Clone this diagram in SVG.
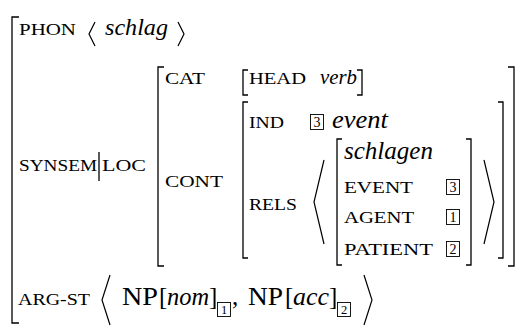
<svg xmlns="http://www.w3.org/2000/svg" width="521" height="328" viewBox="0 0 521 328">
<style>
text{font-family:"Liberation Serif","Times New Roman",serif;fill:#000}
.sc{font-size:17.5px}
.it{font-style:italic}
.rm{font-size:25px}
.br{fill:none;stroke:#000;stroke-width:1.3}
.ang{fill:none;stroke:#000;stroke-width:1.2}
.box{fill:none;stroke:#000;stroke-width:0.9}
.dg{font-size:14px;text-anchor:middle}
.sdg{font-size:12.5px;text-anchor:middle}
</style>
<rect width="521" height="328" fill="#fff"/>
<g id="outer-avm">
  <path class="br" d="M19 17 H12 V323 H19"/>
  <text class="sc" x="19" y="35" textLength="57" lengthAdjust="spacingAndGlyphs">PHON</text>
  <path class="ang" d="M95 22 L89 34 L95 46"/>
  <text class="it" x="105" y="35" font-size="23" textLength="63" lengthAdjust="spacingAndGlyphs">schlag</text>
  <path class="ang" d="M178 22 L184 34 L178 46"/>
  <text class="sc" x="19" y="171" textLength="78" lengthAdjust="spacingAndGlyphs">SYNSEM</text>
  <path class="br" d="M99 152 V181" stroke-width="1"/>
  <text class="sc" x="102" y="171" textLength="44" lengthAdjust="spacingAndGlyphs">LOC</text>
  <text class="sc" x="18" y="305" textLength="72" lengthAdjust="spacingAndGlyphs">ARG-ST</text>
  <path class="ang" d="M110 275 L102 300 L110 325"/>
  <text class="rm" x="122" y="305" textLength="36" lengthAdjust="spacingAndGlyphs">NP</text>
  <text class="rm" x="159" y="305">[</text>
  <text class="rm it" x="167" y="305" textLength="42" lengthAdjust="spacingAndGlyphs">nom</text>
  <text class="rm" x="209" y="305">]</text>
  <rect class="box" x="217.5" y="302.5" width="13" height="14"/>
  <text class="sdg" x="224" y="314">1</text>
  <text class="rm" x="232" y="305">,</text>
  <text class="rm" x="248" y="305" textLength="35" lengthAdjust="spacingAndGlyphs">NP</text>
  <text class="rm" x="285" y="305">[</text>
  <text class="rm it" x="293" y="305" textLength="36" lengthAdjust="spacingAndGlyphs">acc</text>
  <text class="rm" x="329" y="305">]</text>
  <rect class="box" x="337.5" y="302.5" width="13" height="14"/>
  <text class="sdg" x="344" y="314">2</text>
  <path class="ang" d="M364 275 L372 300 L364 325"/>
</g>
<g id="loc-avm">
  <path class="br" d="M164 67 H158 V266 H164"/>
  <path class="br" d="M508 67 H514 V266 H508"/>
  <text class="sc" x="165" y="84" textLength="40" lengthAdjust="spacingAndGlyphs">CAT</text>
  <text class="sc" x="165" y="187" textLength="58" lengthAdjust="spacingAndGlyphs">CONT</text>
</g>
<g id="cat-avm">
  <path class="br" d="M248 70 H243 V95 H248"/>
  <text class="sc" x="249" y="84" textLength="57" lengthAdjust="spacingAndGlyphs">HEAD</text>
  <text class="it" x="320" y="84" font-size="22" textLength="37" lengthAdjust="spacingAndGlyphs">verb</text>
  <path class="br" d="M357 70 H362 V95 H357"/>
</g>
<g id="cont-avm">
  <path class="br" d="M248 102 H243 V258 H248"/>
  <path class="br" d="M498 102 H503 V258 H498"/>
  <text class="sc" x="249" y="128" textLength="35" lengthAdjust="spacingAndGlyphs">IND</text>
  <rect class="box" x="310.5" y="114.5" width="13" height="15"/>
  <text class="dg" x="317" y="127">3</text>
  <text class="it" x="332" y="128" font-size="25" textLength="56" lengthAdjust="spacingAndGlyphs">event</text>
  <text class="sc" x="249" y="210" textLength="48" lengthAdjust="spacingAndGlyphs">RELS</text>
  <path class="ang" d="M324 160 L314 202 L324 244"/>
  <path class="ang" d="M484 160 L494 202 L484 244"/>
</g>
<g id="rel-avm">
  <path class="br" d="M342 139 H337 V265 H342"/>
  <path class="br" d="M466 139 H471 V265 H466"/>
  <text class="it" x="344" y="159" font-size="25" textLength="89" lengthAdjust="spacingAndGlyphs">schlagen</text>
  <text class="sc" x="344" y="193" textLength="69" lengthAdjust="spacingAndGlyphs">EVENT</text>
  <rect class="box" x="446.5" y="179.5" width="13" height="15"/>
  <text class="dg" x="453" y="192">3</text>
  <text class="sc" x="344" y="223" textLength="70" lengthAdjust="spacingAndGlyphs">AGENT</text>
  <rect class="box" x="446.5" y="209.5" width="13" height="15"/>
  <text class="dg" x="453" y="222">1</text>
  <text class="sc" x="344" y="255" textLength="89" lengthAdjust="spacingAndGlyphs">PATIENT</text>
  <rect class="box" x="446.5" y="241.5" width="13" height="15"/>
  <text class="dg" x="453" y="254">2</text>
</g>
</svg>
